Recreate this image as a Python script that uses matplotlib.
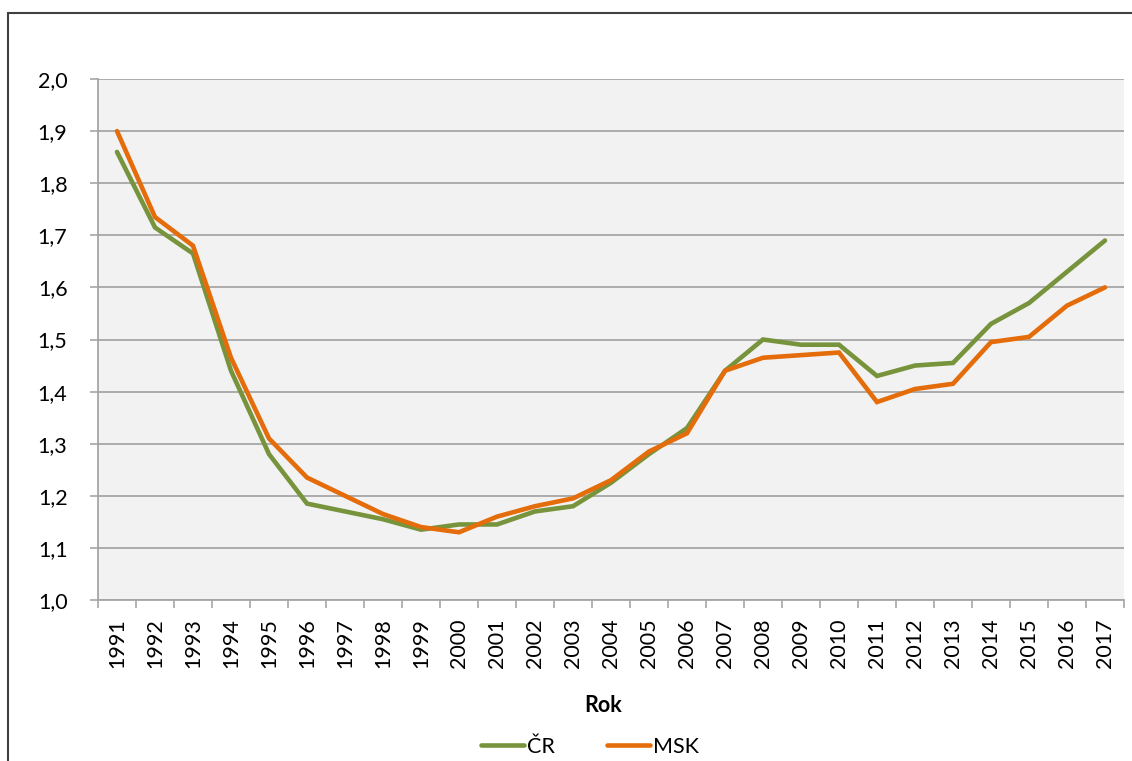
import matplotlib
matplotlib.use("Agg")
import matplotlib.pyplot as plt
from matplotlib.ticker import FixedLocator, FuncFormatter
from matplotlib.patches import Rectangle

plt.rcParams['font.family'] = ['Lato', 'DejaVu Sans']

years = [str(y) for y in range(1991, 2018)]
cr = [1.86, 1.715, 1.665, 1.44, 1.28, 1.185, 1.17, 1.155, 1.135, 1.145,
      1.145, 1.17, 1.18, 1.225, 1.28, 1.33, 1.44, 1.50, 1.49, 1.49,
      1.43, 1.45, 1.455, 1.53, 1.57, 1.63, 1.69]
msk = [1.90, 1.735, 1.68, 1.465, 1.31, 1.235, 1.20, 1.165, 1.14, 1.13,
       1.16, 1.18, 1.195, 1.23, 1.285, 1.32, 1.44, 1.465, 1.47, 1.475,
       1.38, 1.405, 1.415, 1.495, 1.505, 1.565, 1.60]

GREEN = '#77933C'
ORANGE = '#E46C0A'
FS = 15.5

fig = plt.figure(figsize=(11.32, 7.61), dpi=100)
W, H = 1132, 761

# outer chart frame
fig.patches.append(Rectangle((8 / W, -0.1), 1.2, (H - 13) / H + 0.1,
                             transform=fig.transFigure, fill=False,
                             edgecolor='#404040', linewidth=1.5))

ax = fig.add_axes([98 / W, (H - 600) / H, (1124 - 98) / W, (600 - 79) / H])
ax.set_facecolor('#F2F2F2')

x = list(range(len(years)))
ax.plot(x, cr, color=GREEN, lw=3.3, solid_capstyle='round', solid_joinstyle='miter', label='ČR', zorder=3)
ax.plot(x, msk, color=ORANGE, lw=3.3, solid_capstyle='round', solid_joinstyle='miter', label='MSK', zorder=4)

ax.set_xlim(-0.5, len(years) - 0.5)
ax.set_ylim(1.0, 2.0)

ax.set_yticks([1.0 + 0.1 * i for i in range(11)])
ax.yaxis.set_major_formatter(FuncFormatter(lambda v, p: f"{v:.1f}".replace('.', ',')))
ax.grid(axis='y', color='#A6A6A6', lw=1.3)
ax.set_axisbelow(True)

ax.set_xticks(x)
ax.set_xticklabels(years, rotation=90)
ax.xaxis.set_minor_locator(FixedLocator([i - 0.5 for i in range(len(years) + 1)]))
ax.tick_params(axis='x', which='major', length=0, pad=13, labelsize=FS)
ax.tick_params(axis='x', which='minor', length=6, width=1.2, color='#A6A6A6')
ax.tick_params(axis='y', length=6, width=1.2, color='#A6A6A6', pad=16, labelsize=FS)

for s in ['top', 'right']:
    ax.spines[s].set_visible(False)
for s in ['left', 'bottom']:
    ax.spines[s].set_color('#A6A6A6')
    ax.spines[s].set_linewidth(1.3)

fig.text(603 / W, 1 - 705 / H, 'Rok', ha='center', va='center',
         fontsize=FS, fontweight='bold')

fig.legend(loc='center', bbox_to_anchor=(590 / W, 1 - 747 / H), ncol=2,
           frameon=False, fontsize=FS, handlelength=2.0, handletextpad=0.15,
           columnspacing=2.4)

fig.savefig('out.png', dpi=100)
